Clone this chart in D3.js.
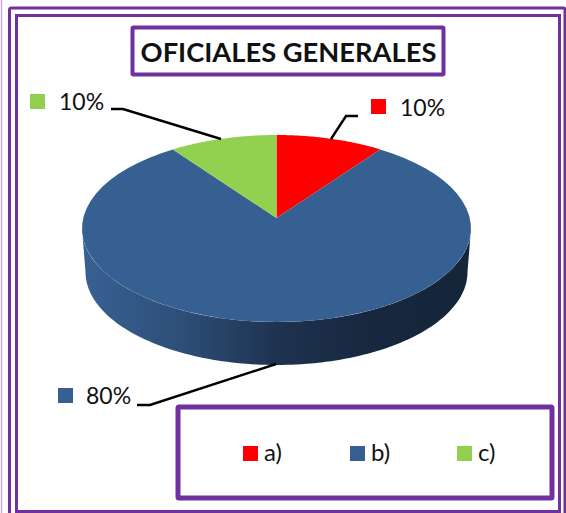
<!DOCTYPE html>
<html>
<head>
<meta charset="utf-8">
<script src="https://cdn.jsdelivr.net/npm/d3@7"></script>
<style>
  html, body { margin: 0; padding: 0; background: #fff; }
  svg { display: block; }
  text { font-family: Lato, sans-serif; fill: #111; }
</style>
</head>
<body>
<div id="chart"></div>
<script>
const title = "OFICIALES GENERALES";
const categories = ["a)", "b)", "c)"];
const values = [10, 80, 10];
const valueLabels = ["10%", "80%", "10%"];
const colors = ["#ff0000", "#376092", "#92d050"];

const width = 566;
const height = 513;
const purple = "#7030a0";

const svg = d3.select("#chart")
  .append("svg")
  .attr("width", width)
  .attr("height", height);

const defs = svg.append("defs");
const grad = defs.append("linearGradient").attr("id", "side");
[[0, "#386193"], [0.25, "#2e4f78"], [0.5, "#1e3350"], [0.75, "#17273d"], [1, "#15253a"]].forEach(s => {
  grad.append("stop").attr("offset", s[0]).attr("stop-color", s[1]);
});

// frames
svg.append("rect").attr("x", -3).attr("y", -6).attr("width", 4.5).attr("height", height + 12)
  .attr("fill", "none").attr("stroke", "#c7a9df").attr("stroke-width", 1.5);
svg.append("rect").attr("x", 9.5).attr("y", 8).attr("width", 555.5).attr("height", 510).attr("rx", 2)
  .attr("fill", "none").attr("stroke", purple).attr("stroke-width", 3);
svg.append("rect").attr("x", 16.5).attr("y", 15.5).attr("width", 543).attr("height", 496)
  .attr("fill", "none").attr("stroke", purple).attr("stroke-width", 3);

// pie: tilted disc, wedges meet at an apex above the ellipse centre (perspective)
const disc = { cx: 276.5, cy: 228.5, rx: 194.5, ry: 93.5, apexY: 218 };
const low = { cx: 276.5, cy: 272, rx: 191, ry: 93 };

const slices = d3.pie().sort(null).value(d => d)(values);

function rim(a) {
  // ray from the apex, direction foreshortened, cut against the top ellipse
  const dx = Math.sin(a) * disc.rx;
  const dy = -Math.cos(a) * disc.ry;
  const oy = disc.apexY - disc.cy;
  const A = dx * dx / (disc.rx * disc.rx) + dy * dy / (disc.ry * disc.ry);
  const B = 2 * oy * dy / (disc.ry * disc.ry);
  const C = oy * oy / (disc.ry * disc.ry) - 1;
  const t = (-B + Math.sqrt(B * B - 4 * A * C)) / (2 * A);
  return [disc.cx + dx * t, disc.apexY + dy * t];
}

const line = d3.line();

function slicePath(d) {
  const pts = d3.range(0, 61).map(i => rim(d.startAngle + (d.endAngle - d.startAngle) * i / 60));
  return line([[disc.cx, disc.apexY], ...pts]) + "Z";
}

const lowerEdge = d3.range(0, 121).map(i => {
  const a = Math.PI * i / 120;
  return [low.cx - low.rx * Math.cos(a), low.cy + low.ry * Math.sin(a)];
});
const upperEdge = d3.range(0, 121).map(i => {
  const a = Math.PI * i / 120;
  return [disc.cx + disc.rx * Math.cos(a), disc.cy + disc.ry * Math.sin(a)];
});
svg.append("path")
  .attr("d", line([...lowerEdge, ...upperEdge]) + "Z")
  .attr("fill", "url(#side)");

svg.selectAll(".slice")
  .data(slices)
  .enter()
  .append("path")
  .attr("class", "slice")
  .attr("d", slicePath)
  .attr("fill", (d, i) => colors[i]);

// data labels with leader lines
const labelPos = [
  { key: [371, 99], text: [400, 116], lead: [[331, 139], [346, 116], [358, 116]] },
  { key: [58, 388], text: [86, 404], lead: [[276, 364], [150, 405], [137, 405]] },
  { key: [30, 94], text: [59, 110], lead: [[221, 139], [123, 109], [111, 109]] }
];

labelPos.forEach((p, i) => {
  svg.append("path").attr("d", line(p.lead))
    .attr("fill", "none").attr("stroke", "#000").attr("stroke-width", 2.4);
  svg.append("rect").attr("x", p.key[0]).attr("y", p.key[1]).attr("width", 15).attr("height", 15)
    .attr("fill", colors[i]);
  svg.append("text").attr("x", p.text[0]).attr("y", p.text[1])
    .attr("font-size", 23).text(valueLabels[i]);
});

// title box
svg.append("rect").attr("x", 132.5).attr("y", 27.5).attr("width", 311).attr("height", 47).attr("rx", 1)
  .attr("fill", "#fff").attr("stroke", purple).attr("stroke-width", 4);
svg.append("text").attr("x", 288.5).attr("y", 62).attr("text-anchor", "middle")
  .attr("font-size", 27.3).attr("font-weight", 700).attr("fill", "#000").text(title);

// legend box
svg.append("rect").attr("x", 178).attr("y", 407).attr("width", 374).attr("height", 91).attr("rx", 1)
  .attr("fill", "#fff").attr("stroke", purple).attr("stroke-width", 5);

const legendX = d3.scalePoint().domain(categories).range([243, 457]);
const legend = svg.selectAll(".legend")
  .data(categories)
  .enter()
  .append("g")
  .attr("class", "legend")
  .attr("transform", d => `translate(${legendX(d)},446)`);
legend.append("rect").attr("width", 15).attr("height", 15).attr("fill", (d, i) => colors[i]);
legend.append("text").attr("x", 21).attr("y", 15).attr("font-size", 24).text(d => d);
</script>
</body>
</html>
